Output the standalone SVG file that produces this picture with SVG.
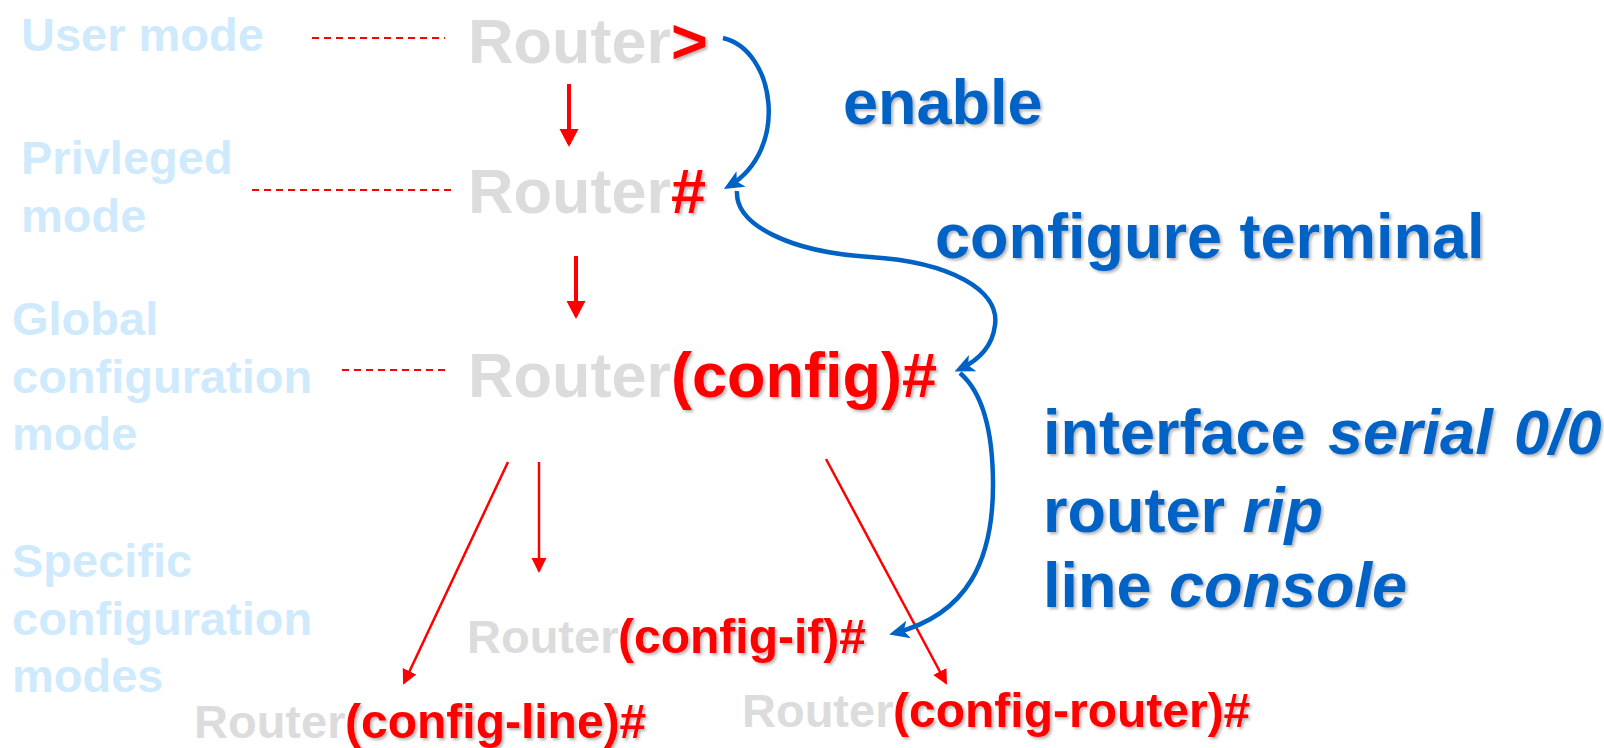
<svg xmlns="http://www.w3.org/2000/svg" width="1604" height="748" viewBox="0 0 1604 748">
  <defs>
    <filter id="sh" x="-5%" y="-20%" width="110%" height="140%">
      <feDropShadow dx="2" dy="2" stdDeviation="1.5" flood-color="#000" flood-opacity="0.3"/>
    </filter>
    <marker id="redHead" markerUnits="userSpaceOnUse" markerWidth="22" markerHeight="22" refX="15" refY="9.5" orient="auto">
      <path d="M0,0 L18,9.5 L0,19 z" fill="#ff0000"/>
    </marker>
    <marker id="redHeadS" markerUnits="userSpaceOnUse" markerWidth="18" markerHeight="18" refX="13" refY="7.5" orient="auto">
      <path d="M0,0 L15,7.5 L0,15 z" fill="#ff0000"/>
    </marker>
    <marker id="blueHead" markerUnits="userSpaceOnUse" markerWidth="22" markerHeight="22" refX="14" refY="9" orient="auto">
      <path d="M0,0 L20,9 L0,18 L5,9 z" fill="#0062c4"/>
    </marker>
    <style>
      text { font-family: "Liberation Sans", Arial, sans-serif; font-weight: bold; }
      .lbl { font-size: 47px; fill: #cfeafd; }
      .gray { fill: #dcdcdc; }
      .red { fill: #ff0000; }
      .big { font-size: 63px; }
      .mid { font-size: 47px; }
      .midr { font-size: 48px; }
      .cmd { font-size: 63px; fill: #0062c4; }
      .it { font-style: italic; }
      .dash { stroke: #ff0000; stroke-width: 2; stroke-dasharray: 7 5; fill: none; }
      .rarrow { stroke: #ff0000; stroke-width: 4; fill: none; marker-end: url(#redHead); }
      .rthin { stroke: #ff0000; stroke-width: 2.5; fill: none; marker-end: url(#redHeadS); }
      .barrow { stroke: #0062c4; stroke-width: 4.5; fill: none; marker-end: url(#blueHead); }
    </style>
  </defs>
  <rect width="1604" height="748" fill="#ffffff"/>

  <g id="label-user">
    <text class="lbl" x="21" y="51">User mode</text>
  </g>
  <g id="label-privileged">
    <text class="lbl" x="21" y="174">Privleged</text>
    <text class="lbl" x="21" y="232">mode</text>
  </g>
  <g id="label-global">
    <text class="lbl" x="12" y="335">Global</text>
    <text class="lbl" x="12" y="393">configuration</text>
    <text class="lbl" x="12" y="450">mode</text>
  </g>
  <g id="label-specific">
    <text class="lbl" x="12" y="577">Specific</text>
    <text class="lbl" x="12" y="635">configuration</text>
    <text class="lbl" x="12" y="692">modes</text>
  </g>

  <g id="prompt-user">
    <text class="gray big" x="468" y="63">Router</text>
    <text class="red big" x="671" y="63" filter="url(#sh)">&gt;</text>
  </g>
  <g id="prompt-privileged">
    <text class="gray big" x="468" y="213">Router</text>
    <text class="red big" x="671" y="213" filter="url(#sh)">#</text>
  </g>
  <g id="prompt-config">
    <text class="gray big" x="468" y="397">Router</text>
    <text class="red big" x="671" y="397" filter="url(#sh)">(config)#</text>
  </g>
  <g id="prompt-config-if">
    <text class="gray mid" x="467" y="653">Router</text>
    <text class="red midr" x="618" y="653" filter="url(#sh)">(config-if)#</text>
  </g>
  <g id="prompt-config-line">
    <text class="gray mid" x="194" y="738">Router</text>
    <text class="red midr" x="345" y="738" filter="url(#sh)">(config-line)#</text>
  </g>
  <g id="prompt-config-router">
    <text class="gray mid" x="742" y="727">Router</text>
    <text class="red midr" x="893" y="727" filter="url(#sh)">(config-router)#</text>
  </g>

  <g id="cmd-enable">
    <text class="cmd" x="843" y="124" filter="url(#sh)">enable</text>
  </g>
  <g id="cmd-configure">
    <text class="cmd" x="935" y="258" filter="url(#sh)">configure terminal</text>
  </g>
  <g id="cmd-specific">
    <text class="cmd" x="1043" y="454" filter="url(#sh)">interface <tspan class="it" x="1328">serial</tspan> <tspan class="it" x="1514">0/0</tspan></text>
    <text class="cmd" x="1043" y="532" filter="url(#sh)">router <tspan class="it">rip</tspan></text>
    <text class="cmd" x="1043" y="607" filter="url(#sh)">line <tspan class="it">console</tspan></text>
  </g>

  <g id="connectors">
    <line class="dash" x1="312" y1="38" x2="445" y2="38"/>
    <line class="dash" x1="252" y1="190" x2="452" y2="190"/>
    <line class="dash" x1="342" y1="370" x2="448" y2="370"/>

    <line class="rarrow" x1="569" y1="84" x2="569" y2="144"/>
    <line class="rarrow" x1="576" y1="256" x2="576" y2="316"/>
    <line class="rthin" x1="539" y1="462" x2="539" y2="571"/>
    <line class="rthin" x1="508" y1="462" x2="404" y2="683"/>
    <line class="rthin" x1="826" y1="459" x2="946" y2="683"/>

    <path class="barrow" d="M723,38 C775,50 790,150 729,186"/>
    <path class="barrow" d="M737,191 C735,225 790,252 870,257 C950,262 1000,290 995,325 C992,350 975,362 960,369"/>
    <path class="barrow" d="M960,373 C982,392 993,430 993,485 C993,560 968,614 895,633"/>
  </g>
</svg>
